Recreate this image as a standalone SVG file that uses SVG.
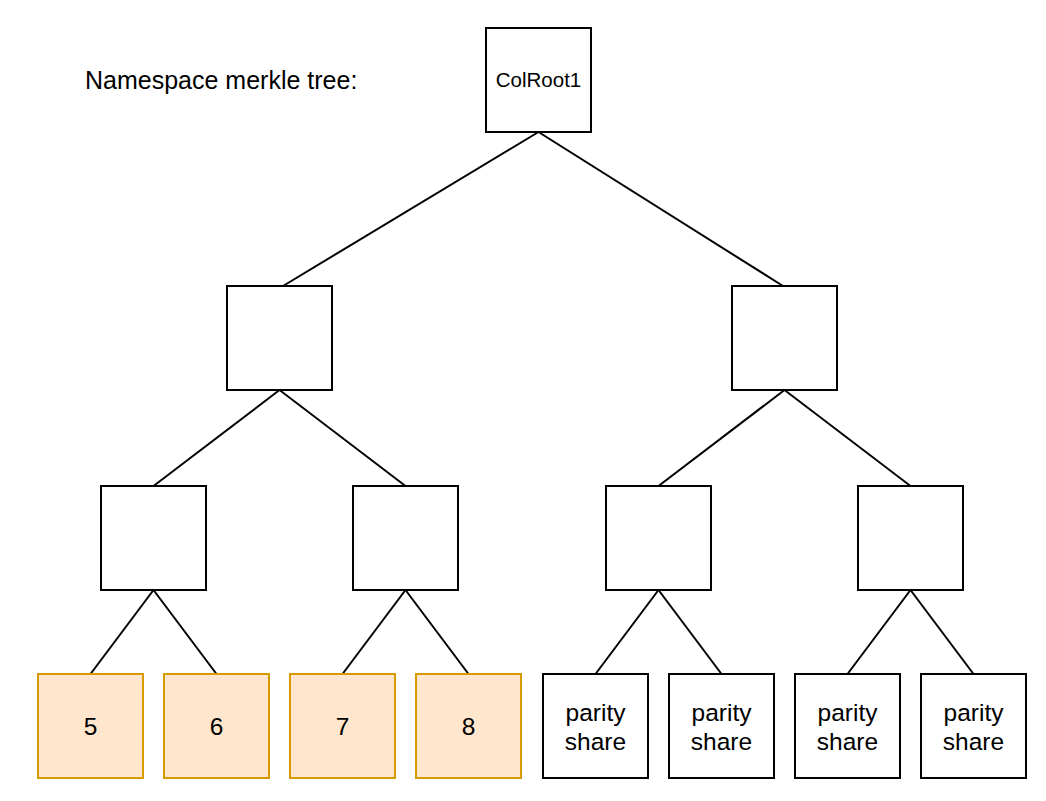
<svg xmlns="http://www.w3.org/2000/svg" width="1046" height="801" viewBox="0 0 1046 801">
<style>
.box{fill:#ffffff;stroke:#000000;stroke-width:2}
.data{fill:#ffe6cc;stroke:#d79b00;stroke-width:2}
.edge{stroke:#000000;stroke-width:2;fill:none}
text{font-family:"Liberation Sans",Arial,Helvetica,sans-serif;fill:#000000}
.lbl{font-size:24.5px;text-anchor:middle}
</style>
<rect width="1046" height="801" fill="#ffffff"/>
<text x="85" y="89" style="font-size:25px">Namespace merkle tree:</text>
<g id="connectors">
<line class="edge" x1="538.5" y1="132" x2="283" y2="286"/>
<line class="edge" x1="538.5" y1="132" x2="783" y2="286"/>
<line class="edge" x1="279.5" y1="390" x2="153.5" y2="486"/>
<line class="edge" x1="279.5" y1="390" x2="405.5" y2="486"/>
<line class="edge" x1="784.5" y1="390" x2="658.5" y2="486"/>
<line class="edge" x1="784.5" y1="390" x2="910.5" y2="486"/>
<line class="edge" x1="153.5" y1="590" x2="90.5" y2="674"/>
<line class="edge" x1="153.5" y1="590" x2="216.5" y2="674"/>
<line class="edge" x1="405.5" y1="590" x2="342.5" y2="674"/>
<line class="edge" x1="405.5" y1="590" x2="468.5" y2="674"/>
<line class="edge" x1="658.5" y1="590" x2="595.5" y2="674"/>
<line class="edge" x1="658.5" y1="590" x2="721.5" y2="674"/>
<line class="edge" x1="910.5" y1="590" x2="847.5" y2="674"/>
<line class="edge" x1="910.5" y1="590" x2="973.5" y2="674"/>
</g>
<g id="root"><rect class="box" x="486" y="28" width="105" height="104"/><text x="538.5" y="87" style="font-size:20.5px;text-anchor:middle">ColRoot1</text></g>
<g id="n-l"><rect class="box" x="227" y="286" width="105" height="104"/></g>
<g id="n-r"><rect class="box" x="732" y="286" width="105" height="104"/></g>
<g id="n-ll"><rect class="box" x="101" y="486" width="105" height="104"/></g>
<g id="n-lr"><rect class="box" x="353" y="486" width="105" height="104"/></g>
<g id="n-rl"><rect class="box" x="606" y="486" width="105" height="104"/></g>
<g id="n-rr"><rect class="box" x="858" y="486" width="105" height="104"/></g>
<g id="leaf5"><rect class="data" x="38" y="674" width="105" height="104"/><text class="lbl" x="90.5" y="735">5</text></g>
<g id="leaf6"><rect class="data" x="164" y="674" width="105" height="104"/><text class="lbl" x="216.5" y="735">6</text></g>
<g id="leaf7"><rect class="data" x="290" y="674" width="105" height="104"/><text class="lbl" x="342.5" y="735">7</text></g>
<g id="leaf8"><rect class="data" x="416" y="674" width="105" height="104"/><text class="lbl" x="468.5" y="735">8</text></g>
<g id="parity1"><rect class="box" x="543" y="674" width="105" height="104"/><text class="lbl" x="595.5" y="721">parity</text><text class="lbl" x="595.5" y="750">share</text></g>
<g id="parity2"><rect class="box" x="669" y="674" width="105" height="104"/><text class="lbl" x="721.5" y="721">parity</text><text class="lbl" x="721.5" y="750">share</text></g>
<g id="parity3"><rect class="box" x="795" y="674" width="105" height="104"/><text class="lbl" x="847.5" y="721">parity</text><text class="lbl" x="847.5" y="750">share</text></g>
<g id="parity4"><rect class="box" x="921" y="674" width="105" height="104"/><text class="lbl" x="973.5" y="721">parity</text><text class="lbl" x="973.5" y="750">share</text></g>
</svg>
